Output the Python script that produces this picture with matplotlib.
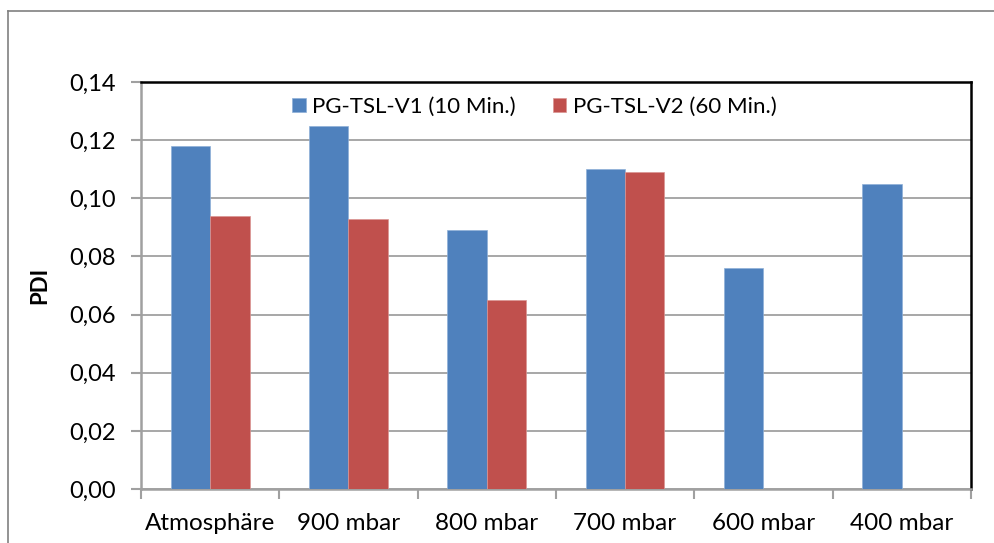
import numpy as np
import matplotlib.pyplot as plt
from matplotlib.lines import Line2D

plt.rcParams['font.family'] = ['Lato', 'DejaVu Sans']

# data
categories = ['Atmosphäre', '900 mbar', '800 mbar', '700 mbar', '600 mbar', '400 mbar']
v1_10min = [0.118, 0.125, 0.089, 0.110, 0.076, 0.105]
v2_60min = [0.094, 0.093, 0.065, 0.109, np.nan, np.nan]
yticks = [0.00, 0.02, 0.04, 0.06, 0.08, 0.10, 0.12, 0.14]

blue = '#4F81BD'
red = '#C0504D'
grid_gray = '#A0A0A0'

fig = plt.figure(figsize=(9.95, 5.43), dpi=100)
ax = fig.add_axes([0.1417, 0.0994, 0.834, 0.7495])

x = np.arange(len(categories))
w = 0.285
ax.bar(x - w / 2, v1_10min, w, color=blue, edgecolor='#8FB0D8', linewidth=0.5,
       label='PG-TSL-V1 (10 Min.)', zorder=3)
ax.bar(x + w / 2, v2_60min, w, color=red, edgecolor='#DA9593', linewidth=0.5,
       label='PG-TSL-V2 (60 Min.)', zorder=3)

ax.set_xlim(-0.5, len(categories) - 0.5)
ax.set_ylim(0, 0.14)
ax.set_yticks(yticks)
ax.set_yticklabels([f'{t:.2f}'.replace('.', ',') for t in yticks], fontsize=17)
ax.set_xticks(x)
ax.set_xticklabels(categories, fontsize=17.5)
ax.set_xticks(np.arange(-0.5, len(categories)), minor=True)

ax.tick_params(axis='x', which='major', length=0, pad=17)
ax.tick_params(axis='x', which='minor', length=7, width=1.5, color=grid_gray, direction='out')
ax.tick_params(axis='y', length=7, width=1.5, color=grid_gray, direction='out', pad=11)

ax.yaxis.grid(True, color=grid_gray, linewidth=1.3, zorder=0)
ax.set_axisbelow(True)

for s in ['left', 'bottom']:
    ax.spines[s].set_color(grid_gray)
    ax.spines[s].set_linewidth(1.8)
for s in ['top', 'right']:
    ax.spines[s].set_color('black')
    ax.spines[s].set_linewidth(1.8)

ax.set_ylabel('PDI', fontsize=16, fontweight='bold', labelpad=14)

ax.legend(loc='upper center', bbox_to_anchor=(0.474, 1.0), ncol=2, frameon=False,
          fontsize=16, handlelength=0.6, handleheight=0.6, handletextpad=0.3,
          columnspacing=1.65, borderaxespad=0.25)

# outer chart frame (top and left edges visible)
fig.add_artist(Line2D([8 / 995, 1.0], [1 - 11 / 543, 1 - 11 / 543],
                      color='#808080', linewidth=1.2, transform=fig.transFigure))
fig.add_artist(Line2D([8 / 995, 8 / 995], [0.0, 1 - 11 / 543],
                      color='#808080', linewidth=1.2, transform=fig.transFigure))

fig.savefig('out.png', dpi=100)
